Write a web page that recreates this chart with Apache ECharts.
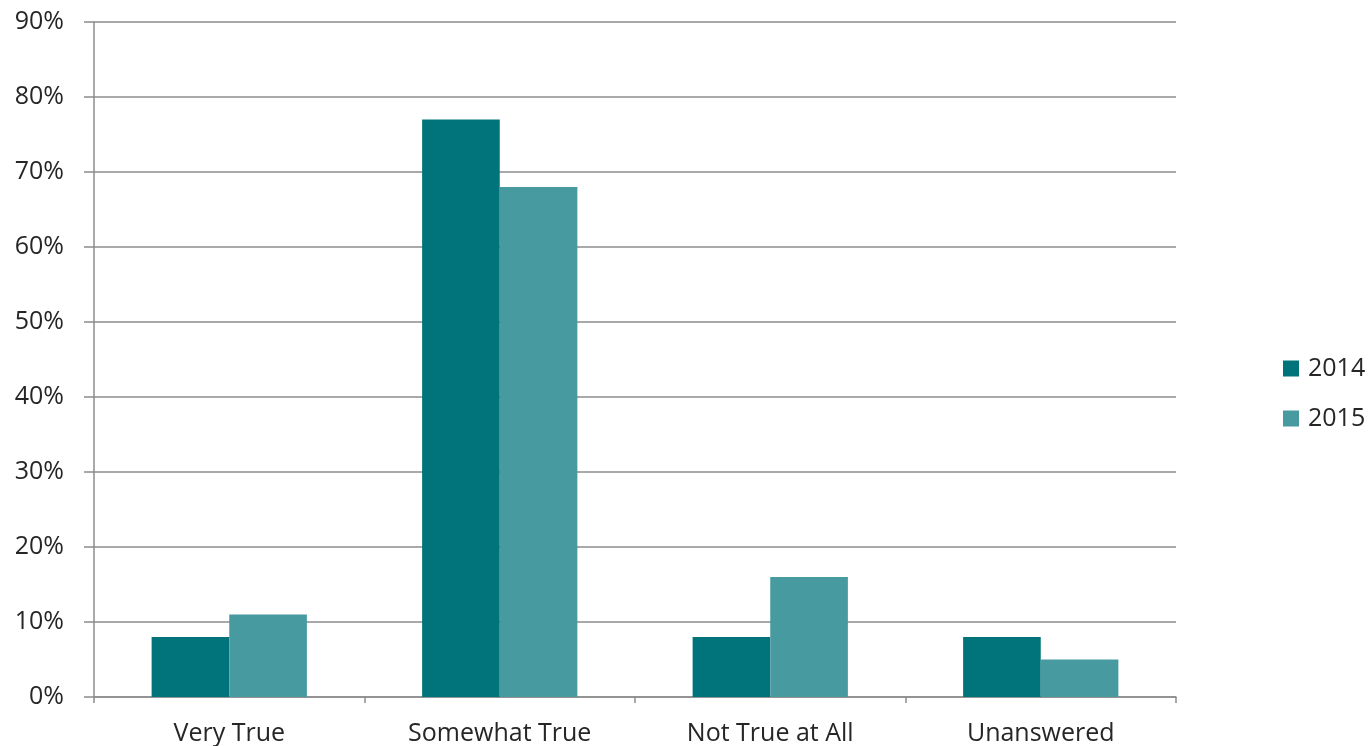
<!DOCTYPE html>
<html>
<head>
<meta charset="utf-8">
<script src="https://cdn.jsdelivr.net/npm/echarts@6/dist/echarts.min.js"></script>
<style>
  html, body { margin: 0; padding: 0; background: #fff; }
  #chart { width: 1371px; height: 746px; }
</style>
</head>
<body>
<div id="chart"></div>
<script>
// Survey responses by year (percent)
const categories = ['Very True', 'Somewhat True', 'Not True at All', 'Unanswered'];
const seriesNames = ['2014', '2015'];
const values2014 = [8, 77, 8, 8];
const values2015 = [11, 68, 16, 5];

const axisGray = '#8c8c8c';
const textColor = '#262626';
const fontFamily = '"Open Sans", Lato, sans-serif';

const chart = echarts.init(document.getElementById('chart'));
chart.setOption({
  animation: false,
  textStyle: { fontFamily: fontFamily },
  grid: { left: 94, right: 195, top: 22, bottom: 49, containLabel: false },
  legend: {
    orient: 'vertical',
    left: 1278,
    top: 351,
    itemWidth: 16,
    itemHeight: 16,
    itemGap: 25,
    icon: 'rect',
    textStyle: { fontSize: 25, color: textColor, fontFamily: fontFamily, padding: [0, 0, 0, 4] },
    data: seriesNames
  },
  xAxis: {
    type: 'category',
    data: categories,
    axisLine: { show: true, lineStyle: { color: axisGray, width: 1.5 } },
    axisTick: { show: true, length: 6, alignWithLabel: false, lineStyle: { color: axisGray, width: 1.5 } },
    axisLabel: { fontSize: 25, color: textColor, margin: 24, fontFamily: fontFamily }
  },
  yAxis: {
    type: 'value',
    min: 0,
    max: 90,
    interval: 10,
    axisLine: { show: true, lineStyle: { color: axisGray, width: 1.5 } },
    axisTick: { show: true, length: 10, lineStyle: { color: axisGray, width: 1.5 } },
    splitLine: { show: true, lineStyle: { color: axisGray, width: 1.5 } },
    axisLabel: { formatter: '{value}%', fontSize: 25, color: textColor, margin: 30, fontFamily: fontFamily }
  },
  series: [
    {
      name: seriesNames[0],
      type: 'bar',
      data: values2014,
      barGap: '0%',
      barCategoryGap: '42.6%',
      itemStyle: { color: '#00747A' }
    },
    {
      name: seriesNames[1],
      type: 'bar',
      data: values2015,
      barGap: '0%',
      barCategoryGap: '42.6%',
      itemStyle: { color: '#469AA0' }
    }
  ]
});
</script>
</body>
</html>
